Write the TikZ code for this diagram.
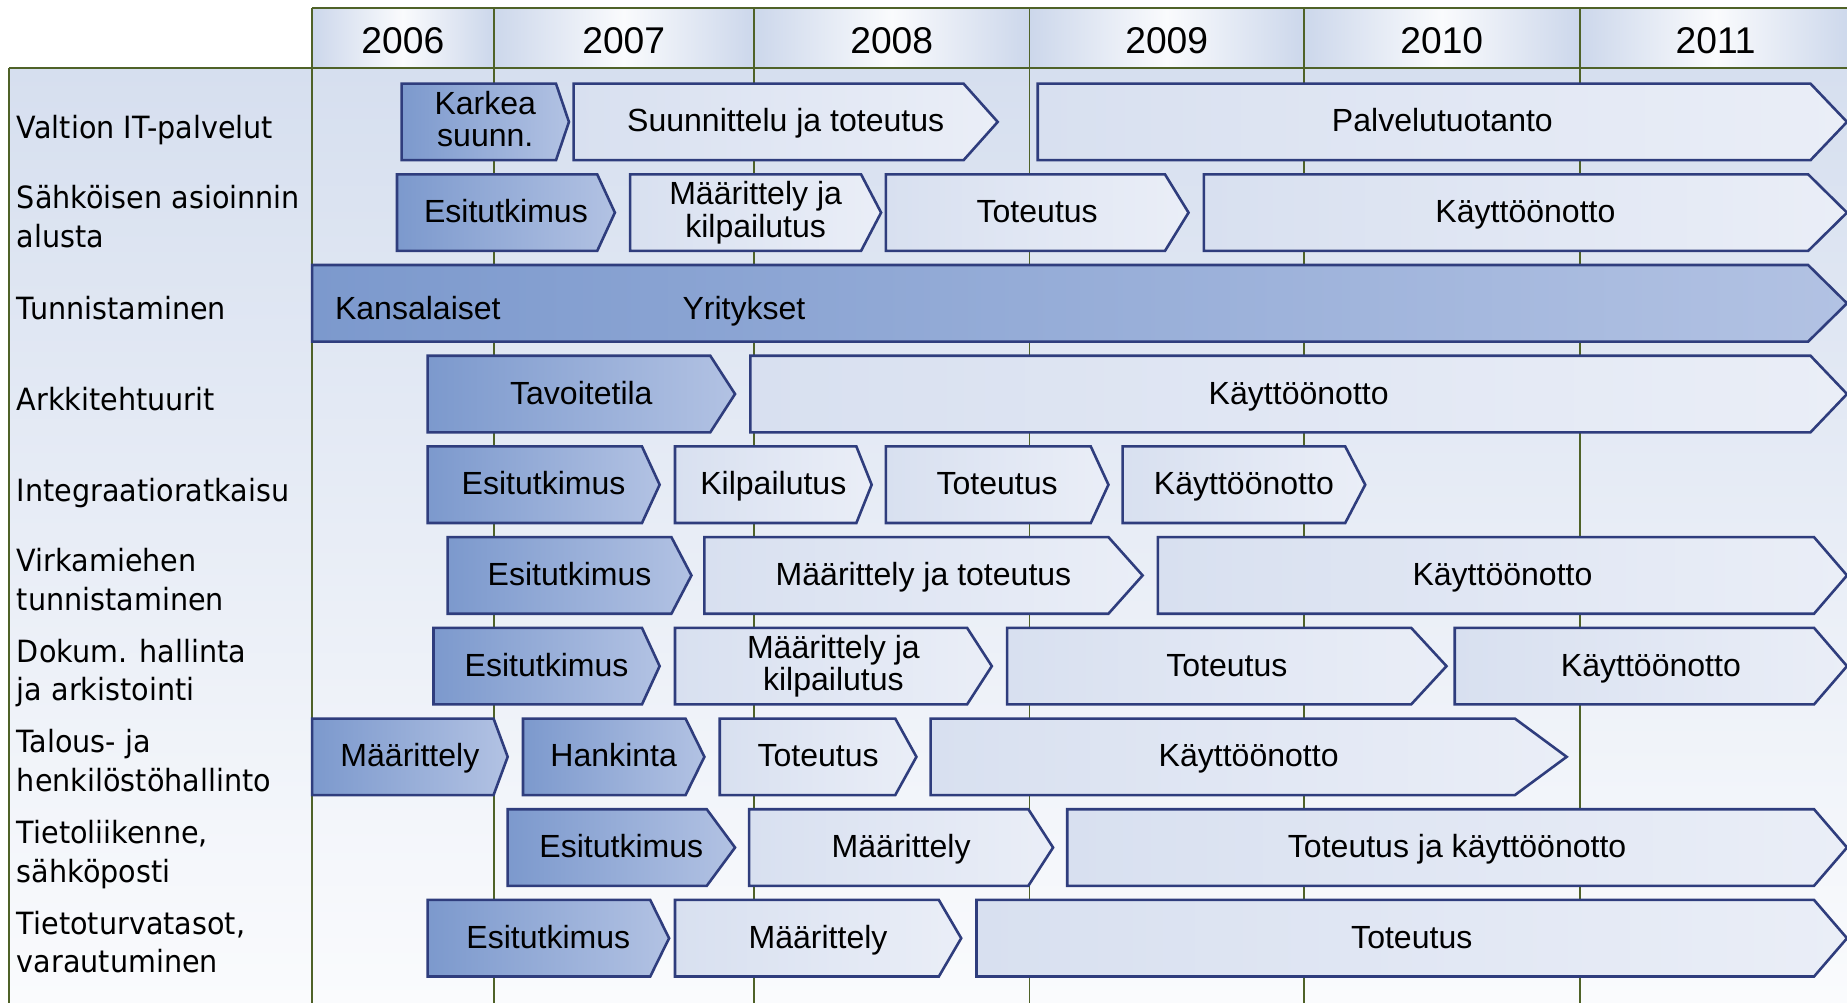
\documentclass[tikz,border=0pt]{standalone}
\usepackage{fontspec}
\setmainfont{Liberation Sans}
\newfontfamily\labfont[FakeStretch=0.935]{DejaVu Sans}
\definecolor{gridc}{RGB}{79,98,40}
\definecolor{edgec}{RGB}{47,61,125}
\definecolor{darkL}{RGB}{124,153,205}
\definecolor{darkR}{RGB}{178,194,227}
\definecolor{liteL}{RGB}{216,224,240}
\definecolor{liteR}{RGB}{234,238,247}
\definecolor{bgtop}{RGB}{214,223,239}
\definecolor{bgbot}{RGB}{250,251,253}
\definecolor{hdE}{RGB}{204,215,235}
\definecolor{hdM}{RGB}{250,251,253}
\tikzset{
  dk/.style={draw=edgec, line width=1.1pt, left color=darkL, right color=darkR, line join=miter},
  lt/.style={draw=edgec, line width=1.1pt, left color=liteL, right color=liteR, line join=miter},
  btxt/.style={font=\fontsize{13.6}{13.75}\selectfont, inner sep=0pt, anchor=base},
  ltxt/.style={font=\labfont\fontsize{13}{16.5}\selectfont, inner sep=0pt, anchor=base west},
  ytxt/.style={font=\fontsize{15.8}{16}\selectfont, inner sep=0pt, anchor=base},
  gridl/.style={draw=gridc, line width=0.8pt},
  hdcell/.style={left color=hdE, right color=hdE, middle color=hdM}
}
% #1 style, #2 top, #3 left, #4 rect end, #5 tip, #6 name, #7 baseline offset, #8 text
\newcommand\chv[8]{%
  \path[#1] (#3,#2) -- (#4,#2) -- (#5,#2+32.5) -- (#4,#2+65) -- (#3,#2+65) -- cycle;
  \node[btxt] (#6) at ({(#3+#5)/2},#2+#7) {#8};}
\newcommand\twoc[2]{\vtop{\halign{\hfil##\hfil\cr#1\cr#2\cr}}}
\newcommand\twol[2]{\vtop{\hbox{#1}\hbox{#2}}}
\begin{document}
\begin{tikzpicture}[x=0.5pt,y=-0.5pt]
\useasboundingbox (0,0) rectangle (1568,851);
\clip (0,0) rectangle (1568,851);
% backgrounds
\fill[white] (0,0) rectangle (1568,851);
\fill[top color=bgtop,bottom color=bgbot] (8,58) rectangle (1568,851);
\path[hdcell] (265,7) rectangle (419,58);
\path[hdcell] (419,7) rectangle (640,58);
\path[hdcell] (640,7) rectangle (874,58);
\path[hdcell] (874,7) rectangle (1107,58);
\path[hdcell] (1107,7) rectangle (1341,58);
\path[hdcell] (1341,7) rectangle (1572,58);
% years
\node[ytxt] (y06) at (342,45.5) {2006};
\node[ytxt] (y07) at (529.5,45.5) {2007};
\node[ytxt] (y08) at (757,45.5) {2008};
\node[ytxt] (y09) at (990.5,45.5) {2009};
\node[ytxt] (y10) at (1224,45.5) {2010};
\node[ytxt] (y11) at (1456.5,45.5) {2011};
% grid
\draw[gridl] (265,7) -- (1570,7);
\draw[gridl] (8,58) -- (1570,58);
\draw[gridl] (8,58) -- (8,855);
\foreach \gx in {265,419,640,874,1107,1341}{\draw[gridl] (\gx,7) -- (\gx,855);}
% labels
\node[ltxt] (l1) at (14,117.4) {Valtion IT-palvelut};
\node[ltxt] (l2) at (14,177) {\twol{Sähköisen asioinnin}{alusta}};
\node[ltxt] (l3) at (14,271.4) {Tunnistaminen};
\node[ltxt] (l4) at (14,348.4) {Arkkitehtuurit};
\node[ltxt] (l5) at (14,425.4) {Integraatioratkaisu};
\node[ltxt] (l6) at (14,485) {\twol{Virkamiehen}{tunnistaminen}};
\node[ltxt] (l7) at (14,562) {\twol{Dokum. hallinta}{ja arkistointi}};
\node[ltxt] (l8) at (14,639) {\twol{Talous- ja}{henkilöstöhallinto}};
\node[ltxt] (l9) at (14,716) {\twol{Tietoliikenne,}{sähköposti}};
\node[ltxt] (l10) at (14,793) {\twol{Tietoturvatasot,}{varautuminen}};
% row 1
\chv{dk}{71}{341}{472}{483}{a1}{26}{\twoc{Karkea}{suunn.}}
\chv{lt}{71}{487}{818}{847}{a2}{41}{Suunnittelu ja toteutus}
\chv{lt}{71}{881}{1537}{1568}{a3}{41}{Palvelutuotanto}
% row 2
\chv{dk}{148}{337}{507}{522}{b1}{41}{Esitutkimus}
\chv{lt}{148}{535}{731}{748}{b2}{26}{\twoc{Määrittely ja}{kilpailutus}}
\chv{lt}{148}{752}{989}{1009}{b3}{41}{Toteutus}
\chv{lt}{148}{1022}{1535}{1568}{b4}{41}{Käyttöönotto}
% row 3
\path[dk] (265,225) -- (1535,225) -- (1568,257.5) -- (1535,290) -- (265,290) -- cycle;
\node[btxt,anchor=base west] (c1) at (284,271.5) {Kansalaiset};
\node[btxt,anchor=base west] (c2) at (579,271.5) {Yritykset};
% row 4
\chv{dk}{302}{363}{603}{624}{d1}{41}{Tavoitetila}
\chv{lt}{302}{637}{1537}{1568}{d2}{41}{Käyttöönotto}
% row 5
\chv{dk}{379}{363}{545}{560}{e1}{41}{Esitutkimus}
\chv{lt}{379}{573}{727}{740}{e2}{41}{Kilpailutus}
\chv{lt}{379}{752}{926}{941}{e3}{41}{Toteutus}
\chv{lt}{379}{953}{1142}{1159}{e4}{41}{Käyttöönotto}
% row 6
\chv{dk}{456}{380}{570}{587}{f1}{41}{Esitutkimus}
\chv{lt}{456}{598}{941}{970}{f2}{41}{Määrittely ja toteutus}
\chv{lt}{456}{983}{1540}{1568}{f3}{41}{Käyttöönotto}
% row 7
\chv{dk}{533}{368}{545}{560}{g1}{41}{Esitutkimus}
\chv{lt}{533}{573}{821}{842}{g2}{26}{\twoc{Määrittely ja}{kilpailutus}}
\chv{lt}{533}{855}{1198}{1228}{g3}{41}{Toteutus}
\chv{lt}{533}{1235}{1540}{1568}{g4}{41}{Käyttöönotto}
% row 8
\chv{dk}{610}{265}{419}{431}{h1}{41}{Määrittely}
\chv{dk}{610}{444}{582}{598}{h2}{41}{Hankinta}
\chv{lt}{610}{611}{760}{778}{h3}{41}{Toteutus}
\chv{lt}{610}{790}{1286}{1330}{h4}{41}{Käyttöönotto}
% row 9
\chv{dk}{687}{431}{600}{624}{i1}{41}{Esitutkimus}
\chv{lt}{687}{636}{873}{894}{i2}{41}{Määrittely}
\chv{lt}{687}{906}{1540}{1568}{i3}{41}{Toteutus ja käyttöönotto}
% row 10
\chv{dk}{764}{363}{552}{568}{j1}{41}{Esitutkimus}
\chv{lt}{764}{573}{797}{816}{j2}{41}{Määrittely}
\chv{lt}{764}{829}{1540}{1568}{j3}{41}{Toteutus}
\end{tikzpicture}
\end{document}
